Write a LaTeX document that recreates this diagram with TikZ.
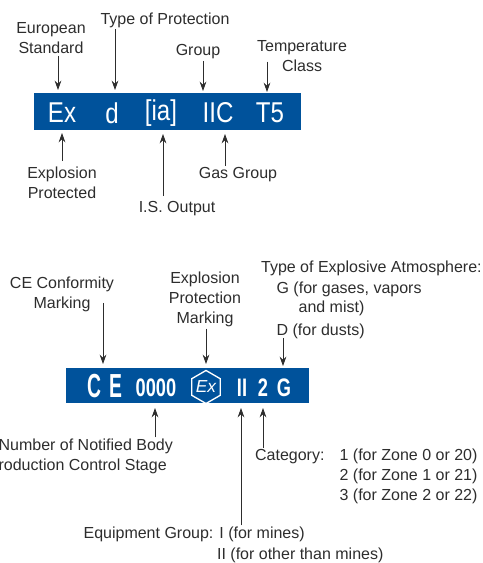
\documentclass[tikz,border=0pt]{standalone}
\usepackage{fontspec}
\setmainfont{Liberation Sans}
\newfontfamily\codefont[FakeStretch=0.84]{Liberation Sans}
\newfontfamily\badgefont[FakeStretch=0.72]{Liberation Sans}
\newfontfamily\ceefont[FakeStretch=0.58]{Liberation Sans}
\usetikzlibrary{arrows.meta,positioning,shapes.geometric}
\definecolor{bandblue}{RGB}{0,82,155}
\definecolor{inkgray}{RGB}{45,45,45}

\begin{document}
\begin{tikzpicture}[
  x=0.75pt, y=-0.75pt,
  >=Stealth,
  lbl/.style={text=inkgray, inner sep=1pt, align=center, font=\fontsize{12pt}{15pt}\selectfont},
  lblleft/.style={lbl, align=left, anchor=west},
  band/.style={fill=bandblue, anchor=north west, inner sep=0pt},
  code/.style={text=white, inner sep=0pt, font=\codefont\fontsize{21.5pt}{21.5pt}\selectfont},
  cemark/.style={text=white, inner sep=0pt, font=\ceefont\bfseries\fontsize{25pt}{25pt}\selectfont},
  badge/.style={text=white, inner sep=0pt, font=\badgefont\bfseries\fontsize{19pt}{19pt}\selectfont},
  pointer/.style={draw=inkgray, ->, line width=0.6pt, >={Stealth[length=7pt,width=5pt]}}
]
  \useasboundingbox (0,0) rectangle (482,563);

  % upper code
  \node[band, minimum width=200.25pt, minimum height=27.75pt] (bandA) at (34,93) {};
  \node[code] (ex) at (62,113) {Ex};
  \node[code] (prot) at (112,113) {d};
  \node[code] (ia) at (161,113) {[ia]};
  \node[code] (iic) at (218,113) {IIC};
  \node[code] (temp) at (270,113) {T5};

  \node[lbl] (standard) at (51,38.5) {European\\Standard};
  \node[lbl] (type) at (165,20) {Type of Protection};
  \node[lbl] (group) at (198,52) {Group};
  \node[lbl] (class) at (302,56.5) {Temperature\\Class};
  \node[lbl] (explosion) at (62,182.5) {Explosion\\Protected};
  \node[lbl] (output) at (177,209) {I.S. Output};
  \node[lbl] (gas) at (238,175) {Gas Group};

  \coordinate (standardtip) at (58,90);
  \coordinate (typetip) at (115,90);
  \coordinate (grouptip) at (203,91);
  \coordinate (classtip) at (267,92);
  \coordinate (explosiontip) at (62,133);
  \coordinate (outputtip) at (163,134);
  \coordinate (gastip) at (225,134);
  \draw[pointer] (standard.south -| standardtip) -- (standardtip);
  \draw[pointer] (type.south -| typetip) -- (typetip);
  \draw[pointer] (group.south -| grouptip) -- (grouptip);
  \draw[pointer] ([yshift=9pt]class.south -| classtip) -- (classtip);
  \draw[pointer] ([yshift=3pt]explosion.north -| explosiontip) -- (explosiontip);
  \draw[pointer] ([yshift=3pt]output.north -| outputtip) -- (outputtip);
  \draw[pointer] (gas.north -| gastip) -- (gastip);

  % lower code
  \node[band, minimum width=182.25pt, minimum height=26.25pt] (bandB) at (66,368) {};
  \node[cemark] (cee) at (94,386) {C};
  \node[cemark] (ee) at (115.5,386) {E};
  \node[badge] (number) at (156,388) {0000};
  \node[draw=white, line width=1pt, regular polygon, regular polygon sides=6, shape border rotate=30,
        minimum size=22.5pt, inner sep=0pt, text=white, font=\fontsize{13pt}{13pt}\selectfont\itshape] (mark) at (206,387) {Ex};
  \node[badge] (two) at (242,388) {II};
  \node[badge] (cat) at (263,388) {2};
  \node[badge] (gee) at (284,388) {G};

  \node[lbl] (conformity) at (62,294.5) {CE Conformity\\Marking};
  \node[lbl] (protection) at (205,299.5) {Explosion\\Protection\\Marking};
  \node[lblleft] (atmos) at (259.5,268.5) {Type of Explosive Atmosphere:};
  \node[lblleft] (gases) at (275,289.5) {G (for gases, vapors};
  \node[lblleft] (mist) at (297,308.5) {and mist)};
  \node[lblleft] (dusts) at (275,331.5) {D (for dusts)};
  \node[lblleft] (notified) at (-3,456.5) {Number of Notified Body\\\hspace*{-8pt}Production Control Stage};
  \node[lblleft] (category) at (253.5,456.5) {Category:};
  \node[lblleft] (zones) at (338,476.5) {1 (for Zone 0 or 20)\\2 (for Zone 1 or 21)\\3 (for Zone 2 or 22)};
  \node[lblleft] (mines) at (82,534.5) {Equipment Group: I (for mines)};
  \node[lblleft] (other) at (215.5,555.5) {II (for other than mines)};

  \coordinate (conformitytip) at (103,364);
  \coordinate (protectiontip) at (206,364);
  \coordinate (duststip) at (283,366);
  \coordinate (notifiedtip) at (155,408);
  \coordinate (minestip) at (241,408);
  \coordinate (categorytip) at (263,408);
  \draw[pointer] ([yshift=8pt]conformity.south -| conformitytip) -- (conformitytip);
  \draw[pointer] (protection.south -| protectiontip) -- (protectiontip);
  \draw[pointer] ([yshift=2pt]dusts.south -| duststip) -- (duststip);
  \draw[pointer] (notified.north -| notifiedtip) -- (notifiedtip);
  \draw[pointer] (mines.north -| minestip) -- (minestip);
  \draw[pointer] (category.north -| categorytip) -- (categorytip);
\end{tikzpicture}
\end{document}
